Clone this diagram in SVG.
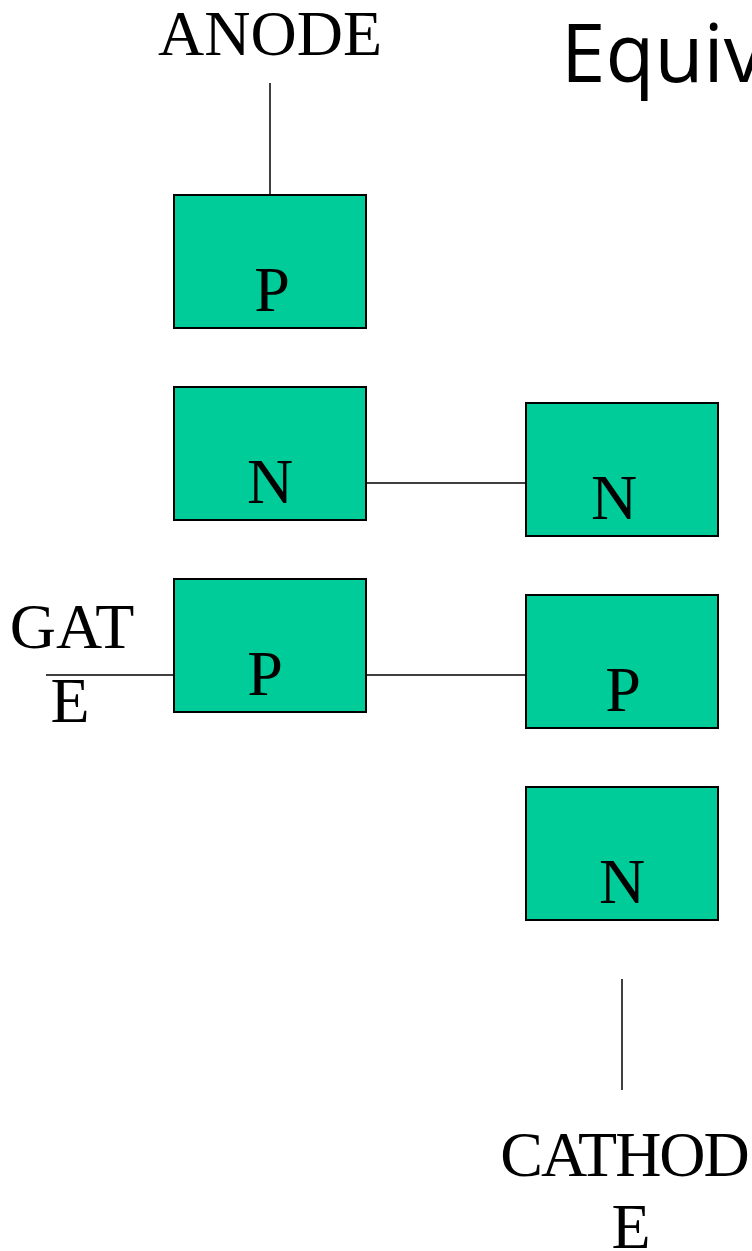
<svg xmlns="http://www.w3.org/2000/svg" width="752" height="1251" viewBox="0 0 752 1251">
  <style>
    .layer { fill: #00CC99; stroke: #000000; stroke-width: 2; }
    .lbl { font-family: "Liberation Serif", "Times New Roman", serif; font-size: 64px; fill: #000000; }
    .wire { stroke: #000000; stroke-width: 1.5; fill: none; }
    .title { font-family: "Open Sans", "Noto Sans", sans-serif; font-size: 80px; fill: #000000; }
  </style>
  <rect width="752" height="1251" fill="#FFFFFF"/>

  <text class="title" x="561" y="82">Equiv</text>

  <!-- terminal labels -->
  <text class="lbl" x="270" y="55" text-anchor="middle">ANODE</text>
  <text class="lbl" x="72" y="648" text-anchor="middle">GAT</text>
  <text class="lbl" x="70" y="722" text-anchor="middle">E</text>
  <text class="lbl" x="624" y="1176" text-anchor="middle" letter-spacing="-2">CATHOD</text>
  <text class="lbl" x="631" y="1248" text-anchor="middle">E</text>

  <!-- connectors -->
  <g id="connectors">
    <line class="wire" x1="270" y1="83" x2="270" y2="195"/>
    <line class="wire" x1="366" y1="483" x2="526" y2="483"/>
    <line class="wire" x1="46" y1="675" x2="174" y2="675"/>
    <line class="wire" x1="366" y1="675" x2="526" y2="675"/>
    <line class="wire" x1="622" y1="979" x2="622" y2="1090"/>
  </g>

  <!-- left transistor: P N P -->
  <g id="left-p1">
    <rect class="layer" x="174" y="195" width="192" height="133"/>
    <text class="lbl" x="272" y="311" text-anchor="middle">P</text>
  </g>
  <g id="left-n">
    <rect class="layer" x="174" y="387" width="192" height="133"/>
    <text class="lbl" x="270" y="503" text-anchor="middle">N</text>
  </g>
  <g id="left-p2">
    <rect class="layer" x="174" y="579" width="192" height="133"/>
    <text class="lbl" x="265" y="695" text-anchor="middle">P</text>
  </g>

  <!-- right transistor: N P N -->
  <g id="right-n1">
    <rect class="layer" x="526" y="403" width="192" height="133"/>
    <text class="lbl" x="614" y="519" text-anchor="middle">N</text>
  </g>
  <g id="right-p">
    <rect class="layer" x="526" y="595" width="192" height="133"/>
    <text class="lbl" x="623" y="711" text-anchor="middle">P</text>
  </g>
  <g id="right-n2">
    <rect class="layer" x="526" y="787" width="192" height="133"/>
    <text class="lbl" x="622" y="903" text-anchor="middle">N</text>
  </g>
</svg>
